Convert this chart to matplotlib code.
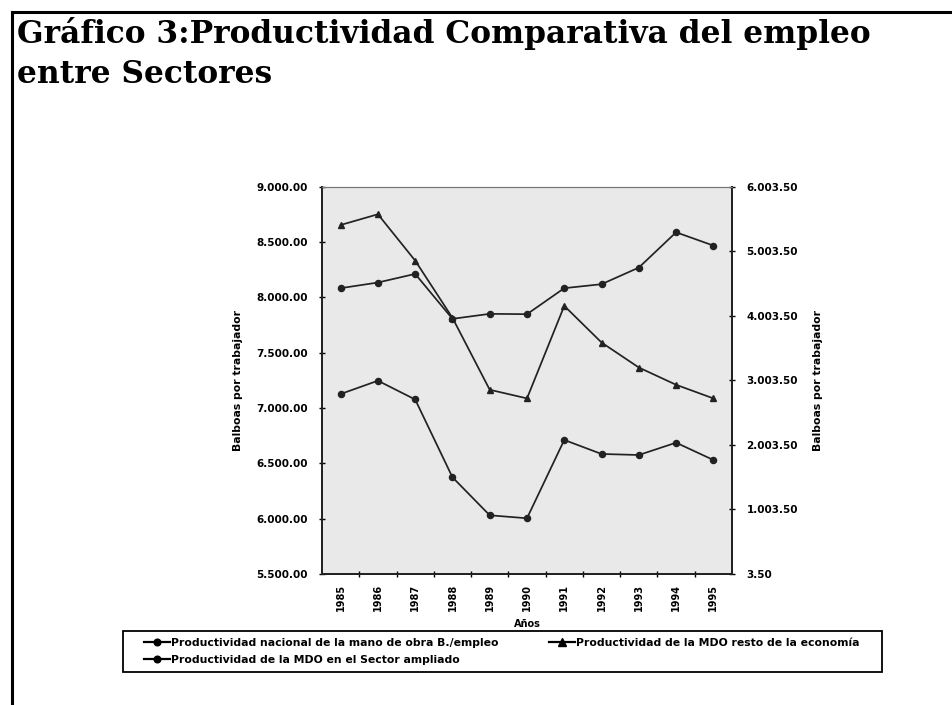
import matplotlib
matplotlib.use("Agg")
import matplotlib.pyplot as plt
from matplotlib.lines import Line2D
from matplotlib.patches import Rectangle

# datos
anios = ["1985", "1986", "1987", "1988", "1989", "1990",
         "1991", "1992", "1993", "1994", "1995"]
nacional = [8083, 8134, 8212, 7806, 7851, 7848, 8083, 8119, 8269, 8588, 8468]
resto = [8654, 8751, 8332, 7815, 7165, 7087, 7923, 7592, 7366, 7210, 7087]
ampliado = [2792, 2998, 2707, 1502, 913, 867, 2080, 1863, 1847, 2038, 1770]

izq_ticks = [5500, 6000, 6500, 7000, 7500, 8000, 8500, 9000]
izq_labels = ["5.500.00", "6.000.00", "6.500.00", "7.000.00",
              "7.500.00", "8.000.00", "8.500.00", "9.000.00"]
der_ticks = [3.5, 1003.5, 2003.5, 3003.5, 4003.5, 5003.5, 6003.5]
der_labels = ["3.50", "1.003.50", "2.003.50", "3.003.50",
              "4.003.50", "5.003.50", "6.003.50"]

nombres = ["Productividad nacional de la mano de obra B./empleo",
           "Productividad de la MDO en el Sector ampliado",
           "Productividad de la MDO resto de la economía"]

fig = plt.figure(figsize=(9.53, 7.05), dpi=100)
W, H = 953, 705

# marco de la diapositiva
fig.add_artist(Line2D([12 / W, 1], [1 - 12 / H, 1 - 12 / H], color="black", lw=2.2))
fig.add_artist(Line2D([12 / W, 12 / W], [0, 1 - 12 / H], color="black", lw=2.2))

# titulo
fig.text(17 / W, 1 - 43 / H, "Gráfico 3:Productividad Comparativa del empleo",
         fontfamily="DejaVu Serif", fontweight="bold", fontsize=22.5, va="baseline")
fig.text(17 / W, 1 - 83 / H, "entre Sectores",
         fontfamily="DejaVu Serif", fontweight="bold", fontsize=22.5, va="baseline")

ax = fig.add_axes([322 / W, 1 - 574 / H, 410 / W, (574 - 186.7) / H])
ax.set_facecolor("#e9e9e9")
x = list(range(len(anios)))

lc = "#222222"
ax.plot(x, nacional, color=lc, lw=1.25, marker="o", ms=4.4)
ax.plot(x, resto, color=lc, lw=1.25, marker="^", ms=4.7)
ax2 = ax.twinx()
ax2.plot(x, ampliado, color=lc, lw=1.25, marker="o", ms=4.4)

ax.set_xlim(-0.5, len(anios) - 0.5)
ax.set_ylim(5500, 9000)
ax2.set_ylim(3.5, 6003.5)

fs = 7.5
ax.set_yticks(izq_ticks)
ax.set_yticklabels(izq_labels, fontsize=fs, fontweight="bold")
ax2.set_yticks(der_ticks)
ax2.set_yticklabels(der_labels, fontsize=fs, fontweight="bold")
ax.set_xticks(x)
ax.set_xticklabels(anios, rotation=90, fontsize=7, fontweight="bold")
ax.set_xticks([i + 0.5 for i in x[:-1]], minor=True)
ax.tick_params(axis="x", which="major", length=0, pad=7)
ax.tick_params(axis="x", which="minor", length=4, direction="inout", width=1)
ax.tick_params(axis="y", length=5, direction="inout", width=1, pad=8)
ax2.tick_params(axis="y", length=5, direction="inout", width=1, pad=8)

for a in (ax, ax2):
    for s in a.spines.values():
        s.set_linewidth(1.3)
        s.set_color("#222222")
    a.spines["top"].set_color("#777777")
    a.spines["top"].set_linewidth(0.8)

ax.set_xlabel("Años", fontsize=7, fontweight="bold", labelpad=6)
ax.set_ylabel("Balboas por trabajador", fontsize=7.8, fontweight="bold", labelpad=9)
ax2.set_ylabel("Balboas por trabajador", fontsize=7.8, fontweight="bold",
               rotation=90, labelpad=11)

# leyenda
hs = [Line2D([], [], color="black", lw=1.6, marker="o", ms=4.8),
      Line2D([], [], color="black", lw=1.6, marker="o", ms=4.8),
      Line2D([], [], color="black", lw=1.6, marker="^", ms=5.2)]
fig.legend(hs, nombres, ncol=2, frameon=False, loc="upper left",
           bbox_to_anchor=(136 / W, 1 - 630 / H),
           prop={"weight": "bold", "size": 7.8}, handlelength=2.4,
           handletextpad=0.1, columnspacing=4.7, labelspacing=0.7,
           borderpad=0.2)
fig.add_artist(Rectangle((123 / W, 1 - 672 / H), (882 - 123) / W, 41 / H,
                         transform=fig.transFigure, fill=False,
                         edgecolor="black", lw=1.3))

fig.savefig("out.png", dpi=100)
